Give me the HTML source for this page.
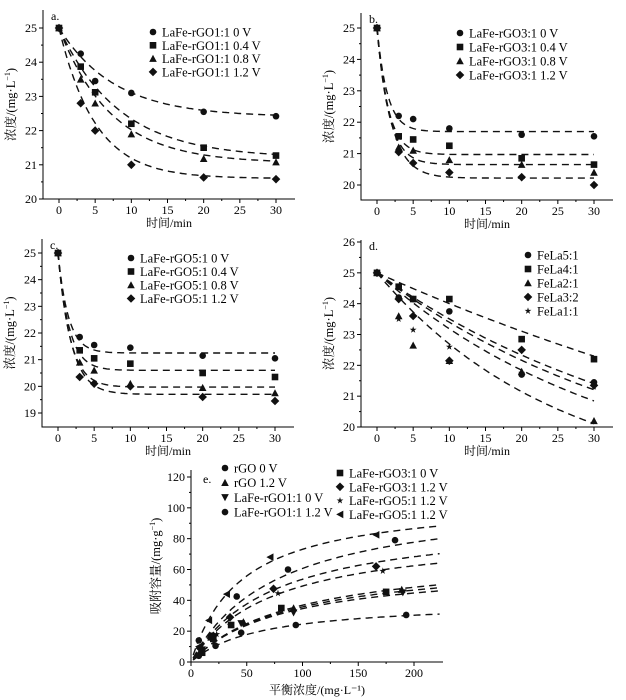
<!DOCTYPE html>
<html><head><meta charset="utf-8">
<style>
html,body{margin:0;padding:0;background:#fff;}
svg{display:block;font-family:"Liberation Serif","Noto Serif CJK SC","Noto Sans CJK SC",serif;}
</style></head>
<body>
<svg id="fig" width="626" height="700" viewBox="0 0 626 700"></svg>
<script>
// ---------- data ----------
const tA = [0,3,5,10,20,30];
const aNames = ["LaFe-rGO1:1 0 V","LaFe-rGO1:1 0.4 V","LaFe-rGO1:1 0.8 V","LaFe-rGO1:1 1.2 V"];
const aS0 = [25,24.25,23.45,23.1,22.55,22.42];
const aS1 = [25,23.87,23.12,22.2,21.5,21.27];
const aS2 = [25,23.5,22.8,21.9,21.18,21.08];
const aS3 = [25,22.8,22.0,21.0,20.63,20.58];
const aFitCe = [22.4,21.2,21.05,20.6];
const aFitK = [0.13,0.12,0.14,0.2];

const bNames = ["LaFe-rGO3:1 0 V","LaFe-rGO3:1 0.4 V","LaFe-rGO3:1 0.8 V","LaFe-rGO3:1 1.2 V"];
const bS0 = [25,22.2,22.1,21.8,21.6,21.55];
const bS1 = [25,21.55,21.45,21.25,20.85,20.65];
const bS2 = [25,21.2,21.1,20.8,20.65,20.4];
const bS3 = [25,21.05,20.7,20.4,20.25,20.0];
const bFitCe = [21.7,20.97,20.65,20.22];
const bFitK = [0.7,0.65,0.6,0.5];

const cNames = ["LaFe-rGO5:1 0 V","LaFe-rGO5:1 0.4 V","LaFe-rGO5:1 0.8 V","LaFe-rGO5:1 1.2 V"];
const cS0 = [25,21.85,21.55,21.45,21.15,21.05];
const cS1 = [25,21.35,21.05,20.85,20.5,20.35];
const cS2 = [25,20.9,20.6,20.1,19.95,19.75];
const cS3 = [25,20.35,20.1,20.0,19.6,19.45];
const cFitCe = [21.25,20.6,19.97,19.7];
const cFitK = [0.7,0.65,0.6,0.55];

const dNames = ["FeLa5:1","FeLa4:1","FeLa2:1","FeLa3:2","FeLa1:1"];
const dS0 = [25,24.2,24.15,23.75,21.7,21.45];
const dS1 = [25,24.55,24.15,24.15,22.85,22.2];
const dS2 = [25,23.6,22.65,22.15,21.8,20.2];
const dS3 = [25,24.15,23.6,22.15,22.5,21.35];
const dS4 = [25,23.5,23.15,22.6,21.75,21.3];
const dFitCe = [18,15,18,18,18];
const dFitK = [0.024,0.0105,0.04,0.026,0.03];

const eNames = ["rGO 0 V","rGO 1.2 V","LaFe-rGO1:1 0 V","LaFe-rGO1:1 1.2 V","LaFe-rGO3:1 0 V","LaFe-rGO3:1 1.2 V","LaFe-rGO5:1 1.2 V","LaFe-rGO5:1 1.2 V"];
const eX0 = [7,22,45,94,193];   const eY0 = [4,10.5,19,24,30.5];
const eX1 = [9,18,47,92,189];   const eY1 = [8,16,26,35,47];
const eX2 = [10,18,45,92,190];  const eY2 = [8,15,25,32,45];
const eX3 = [7,18,41,87,183];   const eY3 = [14,17,42.5,60,79];
const eX4 = [10,20,36,81,175];  const eY4 = [6,15,24,35,45.5];
const eX5 = [8,20,35,74,166];   const eY5 = [9,17,29,47.5,62];
const eX6 = [9,23,35,78,172];   const eY6 = [7,18,24,44.5,59];
const eX7 = [7,16,32,71,166];   const eY7 = [10,27,44,68,82.5];
const eFitQm = [39.6,106,108,93.7,85.2,71,67.1,63.2];
const eFitB = [61.2,45,78,74.5,73,92.8,87.7,82.5];

const xTicksT = [0,5,10,15,20,25,30];
const yTicksA = [20,21,22,23,24,25];
const yTicksB = [20,21,22,23,24,25];
const yTicksC = [19,20,21,22,23,24,25];
const yTicksD = [20,21,22,23,24,25,26];
const xTicksE = [0,50,100,150,200];
const yTicksE = [0,20,40,60,80,100,120];

// ---------- drawing ----------
const NS="http://www.w3.org/2000/svg";
const svg=document.getElementById('fig');
function mk(tag,attrs,parent){const e=document.createElementNS(NS,tag);for(const k in attrs)e.setAttribute(k,attrs[k]);(parent||svg).appendChild(e);return e;}
function txt(s,x,y,size,anchor,parent){const t=mk('text',{x:x,y:y,'font-size':size,'text-anchor':anchor||'start',fill:'#000'},parent);t.textContent=s;return t;}

function marker(g,type,x,y){
  const s=3.3;let e;
  if(type==='circle'||type==='hex'){e=mk('circle',{cx:x,cy:y,r:s},g);}
  else if(type==='square'){e=mk('rect',{x:x-s,y:y-s,width:2*s,height:2*s},g);}
  else if(type==='tri'){e=mk('polygon',{points:`${x},${y-s-0.5} ${x-s-0.5},${y+s} ${x+s+0.5},${y+s}`},g);}
  else if(type==='dtri'){e=mk('polygon',{points:`${x},${y+s+0.5} ${x-s-0.5},${y-s} ${x+s+0.5},${y-s}`},g);}
  else if(type==='ltri'){e=mk('polygon',{points:`${x-s-0.5},${y} ${x+s},${y-s-0.5} ${x+s},${y+s+0.5}`},g);}
  else if(type==='diamond'){e=mk('polygon',{points:`${x},${y-s-1} ${x+s+1},${y} ${x},${y+s+1} ${x-s-1},${y}`},g);}
  else if(type==='star'){let p=[];for(let i=0;i<10;i++){const r=i%2?1.4:3.6;const a=-Math.PI/2+i*Math.PI/5;p.push((x+r*Math.cos(a)).toFixed(1)+','+(y+r*Math.sin(a)).toFixed(1));}e=mk('polygon',{points:p.join(' ')},g);}
  e.setAttribute('fill','#111');
  return e;
}

function panel(cfg){
  const g=mk('g',{});
  
  
  const X=v=>cfg.px0+(v-cfg.x0)*(cfg.px1-cfg.px0)/(cfg.x1-cfg.x0);
  const Y=v=>cfg.py0+(v-cfg.y0)*(cfg.py1-cfg.py0)/(cfg.y1-cfg.y0);
  const L=cfg.axL,R=cfg.axR,T=cfg.axT,B=cfg.axB;
  const ax=mk('path',{d:`M${L},${T} V${B} H${R}`,stroke:'#000','stroke-width':1,fill:'none'},g);
  
  cfg.xt.forEach((v,i)=>{const x=X(v);mk('line',{x1:x,x2:x,y1:B,y2:B+4,stroke:'#000'},g);
    const t=txt(String(v),x,B+15,12,'middle',g);
    if(i<cfg.xt.length-1){const xm=X((v+cfg.xt[i+1])/2);mk('line',{x1:xm,x2:xm,y1:B,y2:B+2,stroke:'#000'},g);}});
  cfg.yt.forEach((v,i)=>{const y=Y(v);mk('line',{x1:L-4,x2:L,y1:y,y2:y,stroke:'#000'},g);
    const t=txt(String(v),L-6,y+4,12,'end',g);
    if(i<cfg.yt.length-1){const ym=Y((v+cfg.yt[i+1])/2);mk('line',{x1:L-2,x2:L,y1:ym,y2:ym,stroke:'#000'},g);}});
  const xl=txt(cfg.xlabel,(L+R)/2,cfg.xlY,12,'middle',g);
  const yc=(T+B)/2;const yl=txt('',cfg.ylX,yc,12.5,'middle',g);
  yl.setAttribute('transform',`rotate(-90 ${cfg.ylX} ${yc})`);
  yl.innerHTML=cfg.ylabel+'/(mg·'+cfg.unit+'<tspan dy="-5" font-size="8">−1</tspan><tspan dy="5">)</tspan>';
  
  const pl=txt(cfg.letter,cfg.letX,cfg.letY,12,'start',g);
  cfg.fits.forEach((f,i)=>{let d='';for(let k=0;k<=120;k++){const xv=f.from+(f.to-f.from)*k/120;const yv=f.fn(xv);d+=(k?'L':'M')+X(xv).toFixed(1)+','+Y(yv).toFixed(1);}
    const p=mk('path',{d:d,fill:'none',stroke:'#111','stroke-width':1.4,'stroke-dasharray':'7 5'},g);
    });
  cfg.series.forEach((s,i)=>{const sg=mk('g',{},g);
    
    s.xs.forEach((xv,j)=>{const m=marker(sg,s.m,X(xv),Y(s.ys[j]));
      });});
  cfg.legend.forEach(lg=>{const lgG=mk('g',{},g);
    lg.items.forEach((it,i)=>{const y=lg.y+i*lg.dy;const eg=mk('g',{},lgG);
      
      marker(eg,it.m,lg.x,y);txt(it.name,lg.x+9,y+4.5,12.5,'start',eg);});});
}

const mk4=['circle','square','tri','diamond'];
const decay=(ce,k)=>(t=>ce+(25-ce)*Math.exp(-k*t));
function timePanel(name,letter,px,py,yt,names,S,ce,kk,ycfg,leg){
  panel({name:name,letter:letter,
    x0:0,x1:30,px0:px+16,px1:px+233,y0:ycfg[0],y1:ycfg[1],py0:ycfg[2],py1:ycfg[3],
    axL:px,axR:px+252,axT:ycfg[4],axB:ycfg[5],
    xt:xTicksT,yt:yt,xlabel:'时间/min',xlY:ycfg[5]+28,ylabel:'浓度',unit:'L',ylX:px-28,
    letX:px+8,letY:ycfg[4]+10,
    fits:ce.map((c,i)=>({from:0,to:30,fn:decay(c,kk[i])})),
    series:S.map((s,i)=>({slug:names[i].replace(/[^A-Za-z0-9]+/g,'-').toLowerCase(),m:leg.marks[i],xs:tA,ys:s})),
    legend:[{x:leg.x,y:leg.y,dy:leg.dy,items:names.map((n,i)=>({name:n,m:leg.marks[i]}))}]});
}
timePanel('panel-a','a.',43,0,yTicksA,aNames,[aS0,aS1,aS2,aS3],aFitCe,aFitK,[25,20,28,199,10,199],{x:153,y:32,dy:13.3,marks:mk4});
timePanel('panel-b','b.',361,0,yTicksB,bNames,[bS0,bS1,bS2,bS3],bFitCe,bFitK,[25,20,28,185,13,200],{x:460,y:33,dy:14,marks:mk4});
timePanel('panel-c','c.',42,0,yTicksC,cNames,[cS0,cS1,cS2,cS3],cFitCe,cFitK,[25,19,253,413,239,427],{x:131,y:258,dy:13.5,marks:mk4});
timePanel('panel-d','d.',361,0,yTicksD,dNames,[dS0,dS1,dS2,dS3,dS4],dFitCe,dFitK,[26,20,242,427,240,427],{x:528,y:255,dy:14,marks:['circle','square','tri','diamond','star']});

const eMarks=['circle','tri','dtri','hex','square','diamond','star','ltri'];
const eXs=[eX0,eX1,eX2,eX3,eX4,eX5,eX6,eX7];
const eYs=[eY0,eY1,eY2,eY3,eY4,eY5,eY6,eY7];
panel({name:'panel-e',letter:'e.',
  x0:0,x1:200,px0:191,px1:414,y0:0,y1:120,py0:662,py1:477,
  axL:191,axR:443,axT:470,axB:662,
  xt:xTicksE,yt:yTicksE,xlabel:'平衡浓度/(mg·L⁻¹)',xlY:694,ylabel:'吸附容量',unit:'g',ylX:160,
  letX:203,letY:483,
  fits:eFitQm.map((q,i)=>({from:2,to:223,fn:(c=>q*c/(eFitB[i]+c))})),
  series:eNames.map((n,i)=>({slug:'e-'+i,m:eMarks[i],xs:eXs[i],ys:eYs[i]})),
  legend:[{x:225,y:468,dy:14.7,items:eNames.slice(0,4).map((n,i)=>({name:n,m:eMarks[i]}))},
          {x:340,y:473,dy:13.8,items:eNames.slice(4).map((n,i)=>({name:n,m:eMarks[i+4]}))}]});
</script>
</body></html>
